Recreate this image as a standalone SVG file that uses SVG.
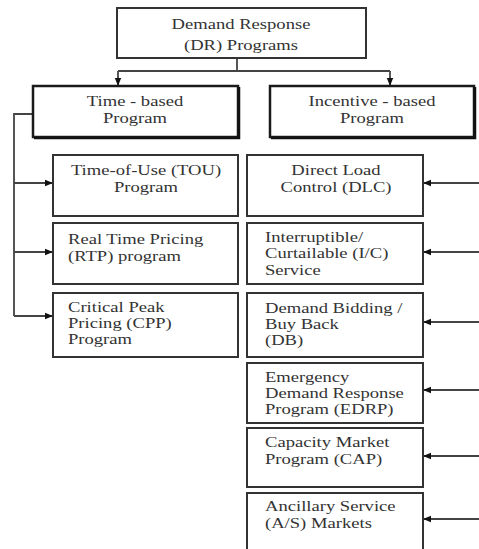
<svg xmlns="http://www.w3.org/2000/svg" width="479" height="549" viewBox="0 0 479 549">
<defs>
<marker id="ah" viewBox="0 0 10 10" refX="10" refY="5" markerWidth="10" markerHeight="8" markerUnits="userSpaceOnUse" orient="auto">
<path d="M0,1 L10,5 L0,9 Z" fill="#111"/>
</marker>
<style>
.box{fill:#fff;stroke:#333;stroke-width:2}
.hbox{fill:#fff;stroke:#1a1a1a;stroke-width:2.5}
.shadow{fill:none;stroke:#111;stroke-width:2.5}
.ln{fill:none;stroke:#444;stroke-width:1.8}
text{font-family:"Liberation Serif","Times New Roman",serif;font-size:15.5px;fill:#333}
.c{text-anchor:middle}
</style>
</defs>
<rect width="479" height="549" fill="#fff"/>
<g id="connectors">
<path class="ln" d="M237,58 V71 M118,71 H390"/>
<path class="ln" d="M118,71 V86" marker-end="url(#ah)"/>
<path class="ln" d="M390,71 V86" marker-end="url(#ah)"/>
<path class="ln" d="M33,114 H14 V316"/>
<path class="ln" d="M14,183 H53" marker-end="url(#ah)"/>
<path class="ln" d="M14,252 H53" marker-end="url(#ah)"/>
<path class="ln" d="M14,316 H53" marker-end="url(#ah)"/>
<path class="ln" d="M479,183 H423" marker-end="url(#ah)"/>
<path class="ln" d="M479,252 H423" marker-end="url(#ah)"/>
<path class="ln" d="M479,322 H423" marker-end="url(#ah)"/>
<path class="ln" d="M479,390 H423" marker-end="url(#ah)"/>
<path class="ln" d="M479,456 H423" marker-end="url(#ah)"/>
<path class="ln" d="M479,519 H423" marker-end="url(#ah)"/>
</g>
<g id="dr">
<rect class="box" x="117" y="8" width="249" height="50"/>
<text class="c" transform="translate(241,29) scale(1.2,1)">Demand Response</text>
<text class="c" transform="translate(241,50) scale(1.2,1)">(DR) Programs</text>
</g>
<g id="time">
<rect class="hbox" x="33" y="86" width="205" height="51"/>
<path class="shadow" d="M239,87 V138 H34"/>
<text class="c" transform="translate(135,106) scale(1.2,1)">Time - based</text>
<text class="c" transform="translate(135,123) scale(1.2,1)">Program</text>
</g>
<g id="incentive">
<rect class="hbox" x="270" y="86" width="204" height="51"/>
<path class="shadow" d="M475,87 V138 H271"/>
<text class="c" transform="translate(372,106) scale(1.2,1)">Incentive - based</text>
<text class="c" transform="translate(372,123) scale(1.2,1)">Program</text>
</g>
<g id="tou">
<rect class="box" x="53" y="155" width="185" height="61"/>
<text class="c" transform="translate(146,175) scale(1.2,1)">Time-of-Use (TOU)</text>
<text class="c" transform="translate(146,192) scale(1.2,1)">Program</text>
</g>
<g id="rtp">
<rect class="box" x="53" y="223" width="185" height="61"/>
<text transform="translate(68,244) scale(1.2,1)">Real Time Pricing</text>
<text transform="translate(68,261) scale(1.2,1)">(RTP) program</text>
</g>
<g id="cpp">
<rect class="box" x="53" y="293" width="185" height="64"/>
<text transform="translate(68,312) scale(1.2,1)">Critical Peak</text>
<text transform="translate(68,328) scale(1.2,1)">Pricing (CPP)</text>
<text transform="translate(68,344) scale(1.2,1)">Program</text>
</g>
<g id="dlc">
<rect class="box" x="247" y="155" width="176" height="61"/>
<text class="c" transform="translate(336,175) scale(1.2,1)">Direct Load</text>
<text class="c" transform="translate(336,192) scale(1.2,1)">Control (DLC)</text>
</g>
<g id="ic">
<rect class="box" x="247" y="223" width="176" height="61"/>
<text transform="translate(265,242) scale(1.2,1)">Interruptible/</text>
<text transform="translate(265,258) scale(1.2,1)">Curtailable (I/C)</text>
<text transform="translate(265,275) scale(1.2,1)">Service</text>
</g>
<g id="db">
<rect class="box" x="247" y="293" width="176" height="64"/>
<text transform="translate(265,313) scale(1.2,1)">Demand Bidding /</text>
<text transform="translate(265,329) scale(1.2,1)">Buy Back</text>
<text transform="translate(265,345) scale(1.2,1)">(DB)</text>
</g>
<g id="edrp">
<rect class="box" x="247" y="363" width="176" height="60"/>
<text transform="translate(265,382) scale(1.2,1)">Emergency</text>
<text transform="translate(265,398) scale(1.2,1)">Demand Response</text>
<text transform="translate(265,414) scale(1.2,1)">Program (EDRP)</text>
</g>
<g id="cap">
<rect class="box" x="247" y="428" width="176" height="59"/>
<text transform="translate(265,447) scale(1.2,1)">Capacity Market</text>
<text transform="translate(265,464) scale(1.2,1)">Program (CAP)</text>
</g>
<g id="as">
<rect class="box" x="247" y="493" width="176" height="62"/>
<text transform="translate(265,511) scale(1.2,1)">Ancillary Service</text>
<text transform="translate(265,528) scale(1.2,1)">(A/S) Markets</text>
</g>
</svg>
